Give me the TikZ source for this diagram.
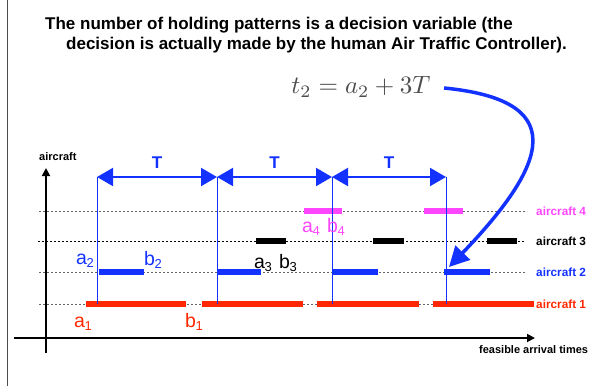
\documentclass[tikz,border=0pt]{standalone}
\usepackage{fontspec}
\setmainfont{Liberation Sans}
\usetikzlibrary{arrows.meta, positioning}

\definecolor{tblue}{RGB}{20,50,255}
\definecolor{tred}{RGB}{255,40,0}
\definecolor{tpink}{RGB}{255,70,255}

\newcommand{\ablbl}[2]{#1\kern-0.5pt{\fontsize{13}{13}\selectfont\raisebox{-3pt}{#2}}}

\begin{document}
\begin{tikzpicture}[
  x=1pt, y=-1pt,
  hdr/.style={font=\fontsize{17}{20}\selectfont\bfseries, anchor=base west, inner sep=0pt},
  lane/.style={dash pattern=on 2pt off 2pt, line width=0.8pt, black!60},
  bar/.style={line width=6pt},
  tick/.style={tblue, line width=0.8pt},
  span/.style={tblue, line width=2pt,
    {Triangle[length=16pt,width=18pt]}-{Triangle[length=16pt,width=18pt]}},
  tlbl/.style={font=\fontsize{17}{20}\selectfont\bfseries, text=tblue, inner sep=0pt},
  lbl/.style={font=\fontsize{11.8}{14}\selectfont\bfseries, anchor=west, inner sep=0pt},
  axlbl/.style={font=\fontsize{11}{13}\selectfont\bfseries, anchor=base west, inner sep=0pt},
  pt/.style={font=\fontsize{19.5}{22}\selectfont, anchor=base west, inner sep=0pt},
]
\useasboundingbox (0,0) rectangle (613,386);

\draw[black!70, line width=0.8pt] (7,0) -- (7,386);

\node[hdr] (title1) at (45,29)
  {The number of holding patterns is a decision variable (the};
\node[hdr] (title2) at (66,49)
  {decision is actually made by the human Air Traffic Controller).};

\node[text=black!70, scale=2.5, inner sep=0pt] (eq) at (361,87)
  {$t_2 = a_2 + 3T$};

% lanes
\draw[lane] (39,211) -- (527,211);
\draw[lane, black] (38,241) -- (524,241);
\draw[lane] (39,272) -- (526,272);
\draw[lane] (39,304) -- (534,304);

% bars
\foreach \a/\b in {86/186, 202/303, 317/419, 433/534}
  \draw[bar, tred, line width=6.5pt] (\a,304) -- (\b,304);
\foreach \a/\b in {99/144, 217/261, 332/378, 444/490}
  \draw[bar, tblue] (\a,272) -- (\b,272);
\foreach \a/\b in {256/286, 373/404, 487/517}
  \draw[bar, black] (\a,241) -- (\b,241);
\foreach \a/\b in {304/342, 424/463}
  \draw[bar, tpink] (\a,211) -- (\b,211);

% axes
\coordinate (ytop) at (46,168);
\coordinate (ybot) at (46,353);
\coordinate (xleft) at (14,338);
\coordinate (xright) at (535,338);
\draw[line width=1.8pt, -{Triangle[length=8pt,width=8pt]}] (ybot) -- (ytop);
\draw[line width=1.8pt, -{Triangle[length=8pt,width=8pt]}] (xleft) -- (xright);
\node[axlbl] (ylab) at (39,160) {aircraft};
\node[axlbl] (xlab) at (479,353) {feasible arrival times};

% holding periods
\foreach \x [count=\i from 0] in {97,217,332,446} {
  \coordinate (v\i) at (\x,177);
  \coordinate (w\i) at (\x,304);
  \draw[tick] (v\i) -- (w\i);
}
\draw[span] (v0) -- node[tlbl, above=8pt] {T} (v1);
\draw[span] (v1) -- node[tlbl, above=8pt] {T} (v2);
\draw[span] (v2) -- node[tlbl, above=8pt] {T} (v3);

% lane names
\node[lbl, text=tpink] (ac4) at (536,211) {aircraft 4};
\node[lbl, text=black] (ac3) at (536,241) {aircraft 3};
\node[lbl, text=tblue] (ac2) at (536,272) {aircraft 2};
\node[lbl, text=tred] (ac1) at (536,304) {aircraft 1};

% window ends
\node[pt, text=tred] (a1) at (74,327) {\ablbl{a}{1}};
\node[pt, text=tred] (b1) at (185,327) {\ablbl{b}{1}};
\node[pt, text=tblue] (a2) at (76,264) {\ablbl{a}{2}};
\node[pt, text=tblue] (b2) at (144,265) {\ablbl{b}{2}};
\node[pt, text=black] (a3) at (254,268) {\ablbl{a}{3}};
\node[pt, text=black] (b3) at (279,268) {\ablbl{b}{3}};
\node[pt, text=tpink] (a4) at (302,232) {\ablbl{a}{4}};
\node[pt, text=tpink] (b4) at (327,232) {\ablbl{b}{4}};

\coordinate (hit) at (449,267);
\draw[tblue, line width=3.5pt, -{Triangle[length=20pt,width=20pt]}]
  ([xshift=13pt,yshift=-1pt]eq.east) .. controls (567,100) and (552,160) .. (hit);

\end{tikzpicture}
\end{document}
